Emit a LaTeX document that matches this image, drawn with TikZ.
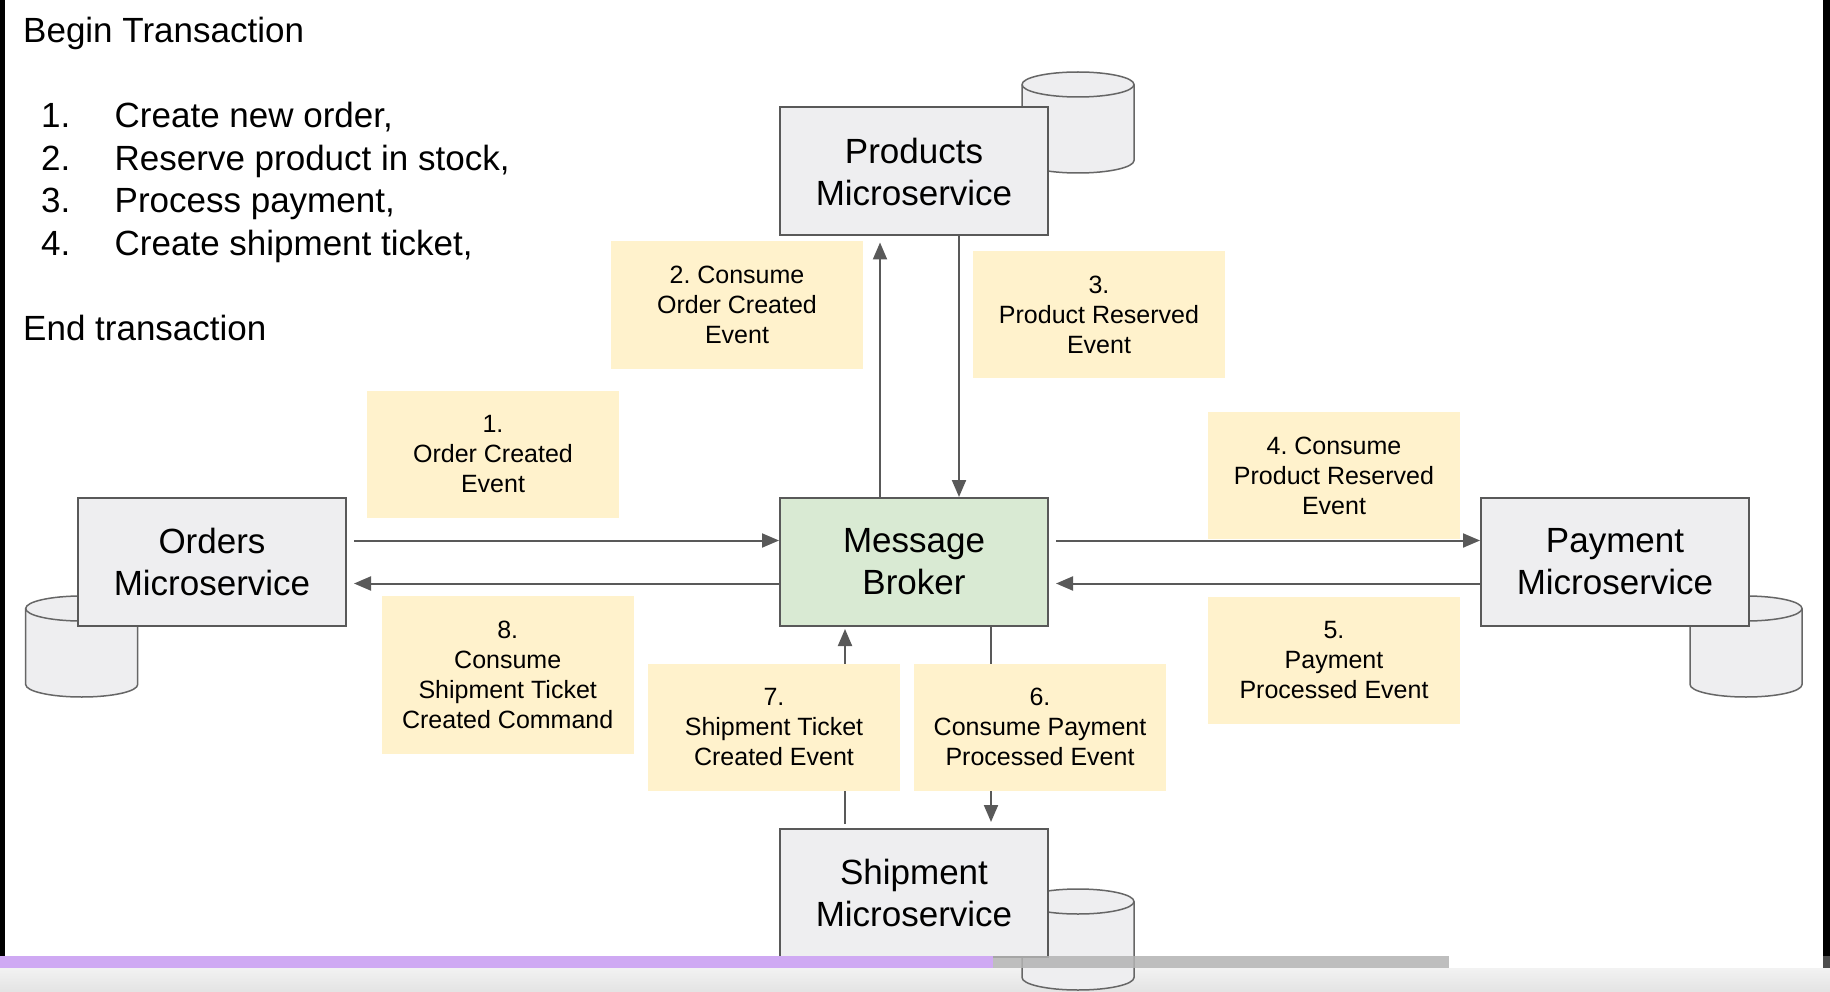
\documentclass[tikz,border=0pt]{standalone}
\usepackage{fontspec}
\setmainfont{Liberation Sans}
\usetikzlibrary{arrows.meta}
\frenchspacing
\definecolor{linegray}{HTML}{595959}
\definecolor{servicegray}{HTML}{EEEEF0}
\definecolor{brokergreen}{HTML}{D9EAD3}
\definecolor{eventyellow}{HTML}{FFF2CC}
\definecolor{dbline}{HTML}{666666}
\definecolor{barpurple}{HTML}{CFA9F3}
\definecolor{bargray}{HTML}{B3B3B3}
\begin{document}
\begin{tikzpicture}[
		x=1pt, y=-1pt,
		service/.style={draw=linegray, line width=2pt, fill=servicegray, minimum width=268pt, minimum height=128pt, align=center, font=\fontsize{35}{42}\selectfont},
		hubbox/.style={service, fill=brokergreen},
		event/.style={fill=eventyellow, minimum width=252pt, minimum height=127pt, align=center, font=\fontsize{25}{30}\selectfont},
		flow/.style={draw=linegray, line width=2pt, -{Triangle[length=17pt,width=14pt]}},
		listtext/.style={anchor=base west, inner sep=0pt, font=\fontsize{35}{42}\selectfont},
		dbdisk/.pic={
				\filldraw[fill=servicegray, draw=dbline, line width=1.5pt] (-56,0) -- (-56,76) arc[start angle=180, end angle=360, x radius=56pt, y radius=12.5pt] -- (56,0) arc[start angle=0, end angle=180, x radius=56pt, y radius=12.5pt] -- cycle;
				\draw[dbline, line width=1.5pt] (-56,0) arc[start angle=180, end angle=360, x radius=56pt, y radius=12.5pt];
			},
	]
	\path[use as bounding box, fill=white] (0,0) rectangle (1830,992);
	\shade[top color=white!95!black, bottom color=white!89!black] (0,968) rectangle (1830,992);
	\fill[black] (0,0) rectangle (5,957);
	\fill[black] (1823,0) rectangle (1830,957);

	% transaction steps
	\node[listtext] (begin) at (23,43) {Begin Transaction};
	\foreach \n/\txt in {1/{Create new order,}, 2/{Reserve product in stock,}, 3/{Process payment,}, 4/{Create shipment ticket,}} {
			\node[listtext] (num\n) at (41,{85.6+42.4*\n}) {\n.};
			\node[listtext] (item\n) at (114.5,{85.6+42.4*\n}) {\txt};
		}
	\node[listtext] (end) at (23,340.5) {End transaction};

	% databases
	\pic at (1078,84.5) {dbdisk};
	\pic at (81.7,608.5) {dbdisk};
	\pic at (1746,608.5) {dbdisk};
	\pic at (1078,901.5) {dbdisk};

	% services
	\node[service] (products) at (914,171.5) {Products\\Microservice};
	\node[hubbox] (broker) at (914,562) {Message\\Broker};
	\node[service] (orders) at (212,562) {Orders\\Microservice};
	\node[service] (payment) at (1615,562) {Payment\\Microservice};
	\node[service] (shipment) at (914,893) {Shipment\\Microservice};

	% messages
	\draw[flow] ([xshift=7pt,yshift=21.5pt]orders.east) -- ([yshift=21.5pt]broker.west);
	\draw[flow] ([yshift=-21.5pt]broker.west) -- ([xshift=7pt,yshift=-21.5pt]orders.east);
	\draw[flow] ([xshift=7pt,yshift=21.5pt]broker.east) -- ([yshift=21.5pt]payment.west);
	\draw[flow] ([yshift=-21.5pt]payment.west) -- ([xshift=7pt,yshift=-21.5pt]broker.east);
	\draw[flow] ([xshift=-34pt]broker.north) -- ([xshift=-34pt,yshift=-6pt]products.south);
	\draw[flow] ([xshift=45pt]products.south) -- ([xshift=45pt]broker.north);
	\draw[flow] ([xshift=-69pt,yshift=4pt]shipment.north) -- ([xshift=-69pt,yshift=-2pt]broker.south);
	\draw[flow] ([xshift=77pt]broker.south) -- ([xshift=77pt,yshift=6pt]shipment.north);

	% event labels
	\node[event] (ev1) at (493,454.5) {1.\\Order Created\\Event};
	\node[event] (ev2) at (737,305) {2. Consume\\Order Created\\Event};
	\node[event] (ev3) at (1099,314.5) {3.\\Product Reserved\\Event};
	\node[event] (ev4) at (1334,475.5) {4. Consume\\Product Reserved\\Event};
	\node[event] (ev5) at (1334,660) {5.\\Payment\\Processed Event};
	\node[event] (ev6) at (1040,727) {6.\\Consume Payment\\Processed Event};
	\node[event] (ev7) at (774,727) {7.\\Shipment Ticket\\Created Event};
	\node[event, minimum height=158pt] (ev8) at (507.7,675) {8.\\Consume\\Shipment Ticket\\Created Command};

	% player bar
	\fill[barpurple] (0,956) rectangle (993,968);
	\fill[bargray, opacity=0.85] (993,956) rectangle (1449,968);
	\fill[black!70] (1823,956) rectangle (1830,968);
\end{tikzpicture}
\end{document}
